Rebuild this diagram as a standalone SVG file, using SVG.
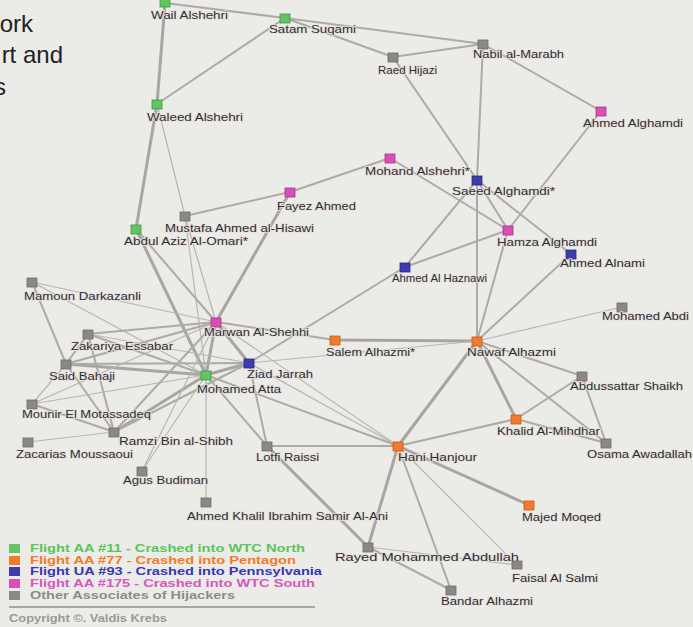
<svg xmlns="http://www.w3.org/2000/svg" width="693" height="627" viewBox="0 0 693 627">
<style>
.bg{fill:#ebebe7}
.e1{stroke:#b9b6b1;stroke-width:1.2;fill:none}
.e2{stroke:#aeaaa6;stroke-width:2;fill:none}
.e3{stroke:#a9a5a1;stroke-width:3;fill:none}
.n rect{stroke-width:0.8}
.g rect{fill:#62c462;stroke:#3f9a3f}
.o rect{fill:#f27a2c;stroke:#c65a18}
.b rect{fill:#3e3cae;stroke:#2a2880}
.m rect{fill:#d84fb6;stroke:#a8368a}
.x rect{fill:#8b8885;stroke:#6e6b68}
.n text{font-family:"Liberation Sans",Arial,sans-serif;font-size:11px;fill:#22333e;stroke:#f0ddd6;stroke-width:1.6;paint-order:stroke}
.lg{font-family:"Liberation Sans",Arial,sans-serif;font-size:11px;font-weight:bold}
.big{font-family:"Liberation Sans",Arial,sans-serif;font-size:24px;fill:#222}
</style>
<rect class="bg" x="0" y="0" width="693" height="627"/>
<g id="intro">
<text class="big" x="33" y="32" text-anchor="end">ork</text>
<text class="big" x="63" y="63" text-anchor="end">rt and</text>
<text class="big" x="6" y="95" text-anchor="end">s</text>
</g>
<g id="connectors">
<line class="e3" x1="165" y1="3" x2="157" y2="104"/>
<line class="e2" x1="165" y1="3" x2="285" y2="18"/>
<line class="e2" x1="157" y1="104" x2="285" y2="18"/>
<line class="e2" x1="285" y1="18" x2="483" y2="44"/>
<line class="e2" x1="285" y1="18" x2="393" y2="57"/>
<line class="e2" x1="393" y1="57" x2="483" y2="44"/>
<line class="e2" x1="393" y1="57" x2="477" y2="180"/>
<line class="e2" x1="483" y1="44" x2="477" y2="180"/>
<line class="e2" x1="483" y1="44" x2="601" y2="111"/>
<line class="e2" x1="601" y1="111" x2="508" y2="230"/>
<line class="e2" x1="390" y1="158" x2="290" y2="192"/>
<line class="e2" x1="390" y1="158" x2="508" y2="230"/>
<line class="e2" x1="477" y1="180" x2="508" y2="230"/>
<line class="e2" x1="477" y1="180" x2="571" y2="254"/>
<line class="e2" x1="477" y1="180" x2="405" y2="267"/>
<line class="e2" x1="477" y1="180" x2="477" y2="341"/>
<line class="e2" x1="508" y1="230" x2="405" y2="267"/>
<line class="e2" x1="508" y1="230" x2="477" y2="341"/>
<line class="e2" x1="571" y1="254" x2="477" y2="341"/>
<line class="e3" x1="157" y1="104" x2="136" y2="229"/>
<line class="e1" x1="157" y1="104" x2="185" y2="216"/>
<line class="e2" x1="185" y1="216" x2="290" y2="192"/>
<line class="e1" x1="185" y1="216" x2="206" y2="375"/>
<line class="e1" x1="185" y1="216" x2="216" y2="322"/>
<line class="e3" x1="136" y1="229" x2="206" y2="375"/>
<line class="e2" x1="136" y1="229" x2="216" y2="322"/>
<line class="e3" x1="290" y1="192" x2="216" y2="322"/>
<line class="e3" x1="216" y1="322" x2="206" y2="375"/>
<line class="e3" x1="216" y1="322" x2="249" y2="363"/>
<line class="e3" x1="206" y1="375" x2="249" y2="363"/>
<line class="e2" x1="216" y1="322" x2="335" y2="340"/>
<line class="e3" x1="335" y1="340" x2="477" y2="341"/>
<line class="e1" x1="249" y1="363" x2="477" y2="341"/>
<line class="e2" x1="249" y1="363" x2="405" y2="267"/>
<line class="e1" x1="477" y1="341" x2="622" y2="307"/>
<line class="e2" x1="477" y1="341" x2="582" y2="376"/>
<line class="e3" x1="477" y1="341" x2="516" y2="419"/>
<line class="e2" x1="477" y1="341" x2="606" y2="443"/>
<line class="e3" x1="477" y1="341" x2="398" y2="446"/>
<line class="e2" x1="516" y1="419" x2="582" y2="376"/>
<line class="e2" x1="516" y1="419" x2="606" y2="443"/>
<line class="e2" x1="582" y1="376" x2="606" y2="443"/>
<line class="e2" x1="516" y1="419" x2="398" y2="446"/>
<line class="e2" x1="398" y1="446" x2="267" y2="446"/>
<line class="e3" x1="398" y1="446" x2="368" y2="547"/>
<line class="e2" x1="398" y1="446" x2="451" y2="590"/>
<line class="e3" x1="398" y1="446" x2="529" y2="505"/>
<line class="e1" x1="398" y1="446" x2="517" y2="565"/>
<line class="e3" x1="267" y1="446" x2="368" y2="547"/>
<line class="e2" x1="368" y1="547" x2="451" y2="590"/>
<line class="e1" x1="368" y1="547" x2="517" y2="565"/>
<line class="e2" x1="206" y1="375" x2="267" y2="446"/>
<line class="e2" x1="249" y1="363" x2="267" y2="446"/>
<line class="e2" x1="206" y1="375" x2="398" y2="446"/>
<line class="e1" x1="249" y1="363" x2="398" y2="446"/>
<line class="e1" x1="216" y1="322" x2="398" y2="446"/>
<line class="e1" x1="206" y1="375" x2="206" y2="502"/>
<line class="e1" x1="32" y1="282" x2="216" y2="322"/>
<line class="e1" x1="32" y1="282" x2="206" y2="375"/>
<line class="e2" x1="32" y1="282" x2="66" y2="364"/>
<line class="e2" x1="88" y1="334" x2="216" y2="322"/>
<line class="e2" x1="88" y1="334" x2="206" y2="375"/>
<line class="e1" x1="88" y1="334" x2="249" y2="363"/>
<line class="e2" x1="88" y1="334" x2="66" y2="364"/>
<line class="e2" x1="88" y1="334" x2="114" y2="432"/>
<line class="e2" x1="66" y1="364" x2="216" y2="322"/>
<line class="e3" x1="66" y1="364" x2="206" y2="375"/>
<line class="e2" x1="66" y1="364" x2="249" y2="363"/>
<line class="e2" x1="66" y1="364" x2="114" y2="432"/>
<line class="e1" x1="66" y1="364" x2="32" y2="404"/>
<line class="e2" x1="32" y1="404" x2="114" y2="432"/>
<line class="e1" x1="32" y1="404" x2="206" y2="375"/>
<line class="e1" x1="32" y1="404" x2="216" y2="322"/>
<line class="e3" x1="114" y1="432" x2="206" y2="375"/>
<line class="e2" x1="114" y1="432" x2="216" y2="322"/>
<line class="e2" x1="114" y1="432" x2="249" y2="363"/>
<line class="e1" x1="28" y1="442" x2="114" y2="432"/>
<line class="e1" x1="142" y1="471" x2="206" y2="375"/>
<line class="e1" x1="142" y1="471" x2="216" y2="322"/>
</g>
<g id="n-wail" class="n g"><rect x="160" y="-2" width="10" height="9"/><text x="151" y="19" textLength="77" lengthAdjust="spacingAndGlyphs">Wail Alshehri</text></g>
<g id="n-satam" class="n g"><rect x="280" y="14" width="10" height="9"/><text x="269" y="33" textLength="87" lengthAdjust="spacingAndGlyphs">Satam Suqami</text></g>
<g id="n-raed" class="n x"><rect x="388" y="53" width="10" height="9"/><text x="378" y="74" textLength="59" lengthAdjust="spacingAndGlyphs">Raed Hijazi</text></g>
<g id="n-nabil" class="n x"><rect x="478" y="40" width="10" height="9"/><text x="473" y="58" textLength="91" lengthAdjust="spacingAndGlyphs">Nabil al-Marabh</text></g>
<g id="n-ahmedalghamdi" class="n m"><rect x="596" y="107" width="10" height="9"/><text x="583" y="127" textLength="100" lengthAdjust="spacingAndGlyphs">Ahmed Alghamdi</text></g>
<g id="n-waleed" class="n g"><rect x="152" y="100" width="10" height="9"/><text x="147" y="121" textLength="96" lengthAdjust="spacingAndGlyphs">Waleed Alshehri</text></g>
<g id="n-mohand" class="n m"><rect x="385" y="154" width="10" height="9"/><text x="365" y="175" textLength="105" lengthAdjust="spacingAndGlyphs">Mohand Alshehri*</text></g>
<g id="n-saeed" class="n b"><rect x="472" y="176" width="10" height="9"/><text x="452" y="195" textLength="103" lengthAdjust="spacingAndGlyphs">Saeed Alghamdi*</text></g>
<g id="n-fayez" class="n m"><rect x="285" y="188" width="10" height="9"/><text x="277" y="210" textLength="79" lengthAdjust="spacingAndGlyphs">Fayez Ahmed</text></g>
<g id="n-mustafa" class="n x"><rect x="180" y="212" width="10" height="9"/><text x="165" y="232" textLength="149" lengthAdjust="spacingAndGlyphs">Mustafa Ahmed al-Hisawi</text></g>
<g id="n-abdul" class="n g"><rect x="131" y="225" width="10" height="9"/><text x="124" y="245" textLength="124" lengthAdjust="spacingAndGlyphs">Abdul Aziz Al-Omari*</text></g>
<g id="n-hamza" class="n m"><rect x="503" y="226" width="10" height="9"/><text x="497" y="246" textLength="100" lengthAdjust="spacingAndGlyphs">Hamza Alghamdi</text></g>
<g id="n-alnami" class="n b"><rect x="566" y="250" width="10" height="9"/><text x="560" y="267" textLength="85" lengthAdjust="spacingAndGlyphs">Ahmed Alnami</text></g>
<g id="n-haznawi" class="n b"><rect x="400" y="263" width="10" height="9"/><text x="392" y="282" textLength="95" lengthAdjust="spacingAndGlyphs">Ahmed Al Haznawi</text></g>
<g id="n-mamoun" class="n x"><rect x="27" y="278" width="10" height="9"/><text x="24" y="300" textLength="117" lengthAdjust="spacingAndGlyphs">Mamoun Darkazanli</text></g>
<g id="n-abdi" class="n x"><rect x="617" y="303" width="10" height="9"/><text x="602" y="320" textLength="87" lengthAdjust="spacingAndGlyphs">Mohamed Abdi</text></g>
<g id="n-marwan" class="n m"><rect x="211" y="318" width="10" height="9"/><text x="204" y="336" textLength="105" lengthAdjust="spacingAndGlyphs">Marwan Al-Shehhi</text></g>
<g id="n-zakariya" class="n x"><rect x="83" y="330" width="10" height="9"/><text x="71" y="350" textLength="102" lengthAdjust="spacingAndGlyphs">Zakariya Essabar</text></g>
<g id="n-salem" class="n o"><rect x="330" y="336" width="10" height="9"/><text x="326" y="356" textLength="89" lengthAdjust="spacingAndGlyphs">Salem Alhazmi*</text></g>
<g id="n-nawaf" class="n o"><rect x="472" y="337" width="10" height="9"/><text x="467" y="356" textLength="89" lengthAdjust="spacingAndGlyphs">Nawaf Alhazmi</text></g>
<g id="n-said" class="n x"><rect x="61" y="360" width="10" height="9"/><text x="49" y="380" textLength="66" lengthAdjust="spacingAndGlyphs">Said Bahaji</text></g>
<g id="n-ziad" class="n b"><rect x="244" y="359" width="10" height="9"/><text x="247" y="378" textLength="66" lengthAdjust="spacingAndGlyphs">Ziad Jarrah</text></g>
<g id="n-atta" class="n g"><rect x="201" y="371" width="10" height="9"/><text x="197" y="393" textLength="84" lengthAdjust="spacingAndGlyphs">Mohamed Atta</text></g>
<g id="n-abdussattar" class="n x"><rect x="577" y="372" width="10" height="9"/><text x="570" y="390" textLength="113" lengthAdjust="spacingAndGlyphs">Abdussattar Shaikh</text></g>
<g id="n-mounir" class="n x"><rect x="27" y="400" width="10" height="9"/><text x="22" y="418" textLength="129" lengthAdjust="spacingAndGlyphs">Mounir El Motassadeq</text></g>
<g id="n-khalid" class="n o"><rect x="511" y="415" width="10" height="9"/><text x="497" y="435" textLength="103" lengthAdjust="spacingAndGlyphs">Khalid Al-Mihdhar</text></g>
<g id="n-ramzi" class="n x"><rect x="109" y="428" width="10" height="9"/><text x="119" y="445" textLength="114" lengthAdjust="spacingAndGlyphs">Ramzi Bin al-Shibh</text></g>
<g id="n-osama" class="n x"><rect x="601" y="439" width="10" height="9"/><text x="587" y="458" textLength="105" lengthAdjust="spacingAndGlyphs">Osama Awadallah</text></g>
<g id="n-zacarias" class="n x"><rect x="23" y="438" width="10" height="9"/><text x="16" y="458" textLength="117" lengthAdjust="spacingAndGlyphs">Zacarias Moussaoui</text></g>
<g id="n-lotfi" class="n x"><rect x="262" y="442" width="10" height="9"/><text x="256" y="461" textLength="63" lengthAdjust="spacingAndGlyphs">Lotfi Raissi</text></g>
<g id="n-hani" class="n o"><rect x="393" y="442" width="10" height="9"/><text x="398" y="461" textLength="79" lengthAdjust="spacingAndGlyphs">Hani Hanjour</text></g>
<g id="n-agus" class="n x"><rect x="137" y="467" width="10" height="9"/><text x="123" y="484" textLength="85" lengthAdjust="spacingAndGlyphs">Agus Budiman</text></g>
<g id="n-khalil" class="n x"><rect x="201" y="498" width="10" height="9"/><text x="187" y="520" textLength="201" lengthAdjust="spacingAndGlyphs">Ahmed Khalil Ibrahim Samir Al-Ani</text></g>
<g id="n-majed" class="n o"><rect x="524" y="501" width="10" height="9"/><text x="522" y="521" textLength="79" lengthAdjust="spacingAndGlyphs">Majed Moqed</text></g>
<g id="n-rayed" class="n x"><rect x="363" y="543" width="10" height="9"/><text x="335" y="561" textLength="184" lengthAdjust="spacingAndGlyphs">Rayed Mohammed Abdullah</text></g>
<g id="n-faisal" class="n x"><rect x="512" y="561" width="10" height="8"/><text x="512" y="582" textLength="86" lengthAdjust="spacingAndGlyphs">Faisal Al Salmi</text></g>
<g id="n-bandar" class="n x"><rect x="446" y="586" width="10" height="9"/><text x="441" y="605" textLength="92" lengthAdjust="spacingAndGlyphs">Bandar Alhazmi</text></g>
<g id="legend">
<rect x="9" y="544" width="11" height="9" fill="#62c462"/>
<rect x="9" y="556" width="11" height="9" fill="#f27a2c"/>
<rect x="9" y="567" width="11" height="9" fill="#3e3cae"/>
<rect x="9" y="579" width="11" height="9" fill="#d84fb6"/>
<rect x="9" y="591" width="11" height="9" fill="#8b8885"/>
<text class="lg" x="30" y="552" fill="#5cc45c" textLength="275" lengthAdjust="spacingAndGlyphs">Flight AA #11 - Crashed into WTC North</text>
<text class="lg" x="30" y="564" fill="#f47a2a" textLength="266" lengthAdjust="spacingAndGlyphs">Flight AA #77 - Crashed into Pentagon</text>
<text class="lg" x="30" y="575" fill="#3a36b2" textLength="292" lengthAdjust="spacingAndGlyphs">Flight UA #93 - Crashed into Pennsylvania</text>
<text class="lg" x="30" y="587" fill="#d658c0" textLength="285" lengthAdjust="spacingAndGlyphs">Flight AA #175 - Crashed into WTC South</text>
<text class="lg" x="30" y="599" fill="#8d8b89" textLength="205" lengthAdjust="spacingAndGlyphs">Other Associates of Hijackers</text>
<line x1="9" y1="607" x2="315" y2="607" stroke="#a9a7a4" stroke-width="2"/>
<text x="9" y="622" font-family="Liberation Sans, Arial, sans-serif" font-size="10" font-weight="bold" fill="#9a9896" textLength="158" lengthAdjust="spacingAndGlyphs">Copyright ©. Valdis Krebs</text>
</g>
</svg>
